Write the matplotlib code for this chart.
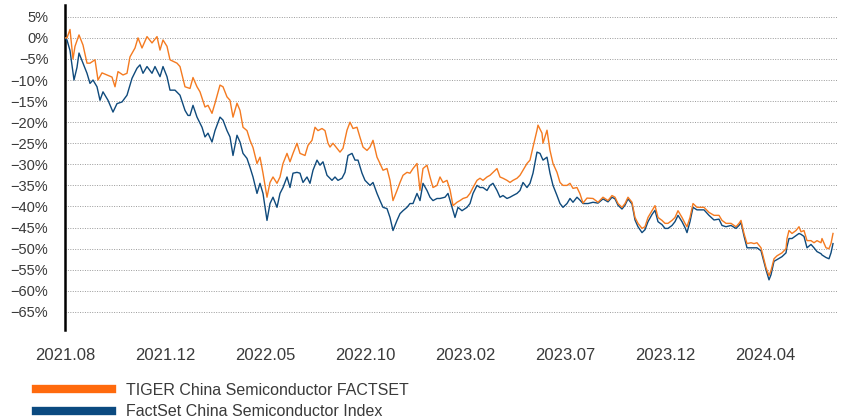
import matplotlib
matplotlib.use("Agg")
import matplotlib.pyplot as plt
from matplotlib.lines import Line2D

plt.rcParams['font.family'] = ['Liberation Sans', 'DejaVu Sans']
plt.rcParams['axes.unicode_minus'] = True

# ---- data (trading-day index, cumulative return %) ----
series_names = ["TIGER China Semiconductor FACTSET", "FactSet China Semiconductor Index"]
tick_days = [0, 100, 200, 300, 400, 500, 600, 700]
tick_labels = ["2021.08", "2021.12", "2022.05", "2022.10", "2023.02", "2023.07", "2023.12", "2024.04"]
y_ticks = [5, 0, -5, -10, -15, -20, -25, -30, -35, -40, -45, -50, -55, -60, -65]

tiger_days = [0, 2, 5, 8, 10, 14, 18, 22, 25, 30, 33, 37, 42, 47, 50, 53, 58, 62, 65, 70,
              73, 77, 82, 87, 92, 95, 98, 102, 105, 112, 115, 120, 125, 128, 132, 135, 140, 143, 147, 150,
              155, 158, 162, 165, 168, 172, 175, 178, 182, 185, 188, 192, 195, 198, 202, 205, 208, 212, 215, 218,
              222, 225, 228, 232, 235, 240, 243, 247, 250, 253, 257, 260, 263, 265, 268, 272, 275, 278, 282, 285,
              288, 292, 295, 298, 302, 305, 308, 312, 315, 318, 322, 325, 328, 332, 335, 338, 342, 345, 348, 352,
              355, 358, 362, 365, 368, 372, 375, 378, 382, 385, 388, 392, 395, 398, 402, 405, 408, 412, 415, 418,
              422, 425, 428, 432, 435, 438, 442, 445, 448, 452, 455, 458, 462, 465, 468, 472, 473, 477, 478, 482,
              485, 488, 492, 495, 498, 502, 505, 508, 512, 515, 518, 522, 528, 533, 538, 543, 547, 550, 553, 557,
              560, 563, 567, 570, 573, 577, 580, 583, 587, 590, 593, 597, 600, 603, 607, 610, 613, 617, 620, 622,
              625, 628, 632, 635, 639, 644, 649, 654, 657, 661, 666, 671, 674, 676, 679, 682, 686, 689, 692, 696,
              701, 704, 706, 709, 712, 717, 721, 722, 724, 727, 731, 734, 736, 739, 742, 746, 749, 752, 756, 757,
              761, 764, 766, 768]
tiger_vals = [0, 0, 2.0, -5.0, -2.0, 0.7, -1.7, -6.0, -6.0, -5.2, -10.0, -8.3, -8.8, -9.3, -11.6, -8.0, -8.8, -8.4, -4.5, -2.4,
              0.0, -2.4, 0.3, -1.2, 0.3, -2.9, -0.5, -2.0, -5.2, -6.0, -6.8, -11.6, -12.0, -9.4, -11.6, -12.8, -16.4, -16.0, -17.9, -15.5,
              -11.2, -11.6, -14.0, -14.8, -18.8, -15.5, -17.2, -21.2, -22.0, -24.3, -26.0, -29.8, -28.3, -32.1, -37.8, -34.3, -33.0, -34.5, -33.0, -29.8,
              -27.4, -29.4, -27.4, -25.0, -27.4, -27.9, -25.5, -24.3, -21.2, -22.0, -21.5, -22.0, -25.0, -25.9, -25.0, -26.2, -27.1, -26.2, -21.9, -20.0,
              -21.5, -21.2, -23.6, -25.9, -26.7, -25.9, -24.3, -28.3, -29.8, -31.4, -31.0, -33.8, -38.6, -36.2, -34.3, -32.6, -31.9, -32.1, -31.0, -29.8,
              -36.2, -31.0, -30.2, -33.0, -35.5, -35.0, -33.0, -34.3, -33.8, -36.0, -39.8, -39.0, -38.6, -38.1, -37.8, -36.9, -35.5, -33.8, -33.3, -33.8,
              -33.0, -32.6, -31.9, -31.0, -33.0, -33.3, -33.8, -34.3, -33.8, -33.3, -32.6, -31.4, -29.8, -29.0, -25.9, -21.9, -20.7, -22.6, -25.0, -21.9,
              -26.7, -29.8, -31.9, -34.3, -35.0, -35.0, -34.5, -35.7, -35.5, -37.0, -39.2, -38.0, -38.1, -39.0, -37.8, -38.6, -37.4, -37.8, -39.3, -40.2,
              -39.3, -37.8, -39.0, -42.6, -44.0, -45.2, -44.8, -42.6, -41.0, -39.8, -42.6, -43.3, -44.0, -44.0, -43.3, -42.6, -41.0, -42.6, -44.0, -44.8,
              -42.6, -39.3, -40.2, -40.2, -40.2, -41.4, -42.1, -42.1, -43.3, -44.0, -44.0, -44.8, -44.0, -43.3, -46.4, -48.8, -48.6, -48.8, -48.6, -49.8,
              -54.5, -56.4, -55.2, -52.4, -51.7, -51.0, -50.0, -47.6, -45.7, -46.4, -45.7, -44.8, -46.0, -45.7, -48.1, -48.1, -48.6, -48.1, -48.6, -47.6,
              -49.8, -50.0, -48.8, -46.4]

fs_days = [0, 2, 5, 9, 12, 14, 18, 22, 25, 28, 32, 35, 38, 43, 48, 52, 57, 62, 67, 72,
           75, 78, 82, 87, 90, 95, 98, 102, 105, 110, 115, 120, 123, 125, 128, 132, 137, 140, 143, 147,
           150, 155, 158, 162, 165, 168, 172, 175, 178, 182, 185, 188, 192, 195, 198, 202, 205, 208, 212, 215,
           218, 222, 225, 228, 232, 235, 238, 242, 245, 248, 252, 255, 258, 262, 267, 270, 273, 277, 280, 283,
           287, 290, 293, 297, 300, 305, 308, 312, 315, 318, 322, 325, 328, 332, 335, 338, 342, 345, 348, 352,
           355, 358, 362, 365, 368, 372, 375, 380, 383, 387, 390, 393, 397, 402, 405, 408, 412, 415, 418, 422,
           425, 428, 432, 435, 438, 442, 445, 448, 452, 455, 458, 462, 465, 468, 472, 475, 478, 482, 485, 488,
           492, 495, 498, 502, 505, 508, 512, 515, 518, 523, 528, 533, 538, 543, 547, 550, 553, 557, 560, 563,
           567, 570, 573, 577, 580, 583, 587, 590, 593, 597, 600, 603, 607, 610, 613, 617, 620, 622, 625, 628,
           632, 635, 639, 644, 649, 654, 657, 661, 666, 671, 674, 676, 679, 682, 686, 689, 692, 696, 701, 704,
           706, 709, 712, 717, 721, 722, 724, 727, 731, 734, 736, 739, 742, 746, 749, 752, 756, 757, 761, 764,
           766, 768]
fs_vals = [0, -0.5, -3.0, -10.0, -7.0, -3.6, -6.0, -8.4, -10.8, -10.0, -11.6, -14.8, -12.8, -14.8, -17.6, -15.6, -15.2, -13.6, -9.6, -7.2,
           -6.4, -8.4, -6.8, -8.4, -6.8, -9.2, -6.8, -9.2, -12.4, -12.4, -13.6, -17.2, -18.4, -18.4, -16.0, -18.8, -21.2, -23.5, -22.6, -24.7,
           -22.0, -18.8, -19.5, -22.0, -23.5, -27.9, -23.1, -24.7, -27.4, -28.6, -30.7, -33.0, -36.9, -34.5, -36.9, -43.3, -39.3, -37.8, -40.2, -36.9,
           -35.5, -33.0, -35.5, -32.1, -31.9, -32.1, -34.3, -33.0, -34.5, -31.4, -29.0, -30.2, -29.4, -32.6, -33.8, -33.0, -33.8, -33.3, -31.9, -27.9,
           -27.4, -29.0, -29.0, -32.1, -33.8, -35.0, -34.3, -36.9, -38.6, -40.2, -40.5, -42.6, -45.7, -43.3, -41.7, -41.0, -40.2, -39.3, -39.3, -36.9,
           -38.6, -34.5, -36.2, -37.8, -38.6, -38.1, -38.1, -37.8, -36.9, -40.2, -42.6, -40.2, -41.0, -40.2, -39.3, -36.9, -35.0, -35.5, -35.5, -36.2,
           -35.0, -34.5, -36.2, -37.8, -37.4, -38.1, -37.8, -37.4, -36.9, -36.2, -34.3, -35.5, -34.5, -32.1, -27.1, -27.4, -29.0, -28.3, -32.1, -35.0,
           -37.4, -39.3, -40.2, -39.3, -38.1, -39.0, -37.8, -38.5, -39.3, -39.3, -39.0, -39.2, -38.2, -38.9, -37.8, -38.2, -39.7, -40.6, -39.7, -38.2,
           -39.4, -43.2, -44.8, -46.2, -45.5, -43.6, -41.9, -40.9, -43.6, -44.3, -45.2, -45.2, -44.5, -43.6, -42.1, -43.6, -45.0, -46.2, -43.6, -40.2,
           -40.8, -40.8, -40.8, -42.1, -43.2, -43.0, -44.5, -44.8, -44.5, -45.2, -44.5, -43.8, -47.0, -49.8, -49.8, -49.8, -49.8, -50.5, -55.0, -57.4,
           -56.2, -53.0, -52.6, -51.9, -51.0, -49.5, -47.6, -47.6, -46.9, -46.4, -46.6, -47.1, -49.8, -49.0, -49.8, -50.7, -51.2, -51.5, -52.1, -52.4,
           -51.0, -48.8]

# ---- styling ----
ORANGE = "#F47A20"
BLUE = "#0F4A7C"
LEG_ORANGE = "#FF6A0D"
LEG_BLUE = "#0B4A80"
TEXT = "#3A3A3A"

W, H = 844, 419
fig = plt.figure(figsize=(W / 100, H / 100), dpi=100)
ax = fig.add_axes([65 / W, 1 - 330 / H, (838 - 65) / W, (330 - 5) / H])

ax.plot(fs_days, fs_vals, color=BLUE, lw=1.0, zorder=3)
ax.plot(tiger_days, tiger_vals, color=ORANGE, lw=1.0, zorder=4)

ax.set_xlim(0, 773)
ax.set_ylim(-69.3, 7.8)
ax.set_yticks(y_ticks)
ax.set_yticklabels([f"{v}%".replace("-", "\u2212") for v in y_ticks])
ax.set_xticks(tick_days)
ax.set_xticklabels(tick_labels)

ax.grid(axis='y', color="#9a9a9a", linestyle=(0, (1, 1.5)), linewidth=0.7, zorder=0)
ax.grid(axis='x', visible=False)
for s in ["top", "right", "bottom"]:
    ax.spines[s].set_visible(False)
ax.spines["left"].set_color("black")
ax.spines["left"].set_linewidth(1.8)
ax.tick_params(axis='y', length=0, pad=12, labelsize=10.5, labelcolor=TEXT)
ax.tick_params(axis='x', length=0, pad=13, labelsize=12, labelcolor=TEXT)

handles = [Line2D([0], [0], color=LEG_ORANGE, lw=6),
           Line2D([0], [0], color=LEG_BLUE, lw=6)]
fig.legend(handles, series_names, loc="upper left",
           bbox_to_anchor=(36 / W, 1 - 383 / H), frameon=False,
           fontsize=11.5, handlelength=4.75, handletextpad=0.9,
           labelspacing=0.4, borderpad=0, borderaxespad=0, labelcolor=TEXT)

fig.savefig("out.png", dpi=100)
